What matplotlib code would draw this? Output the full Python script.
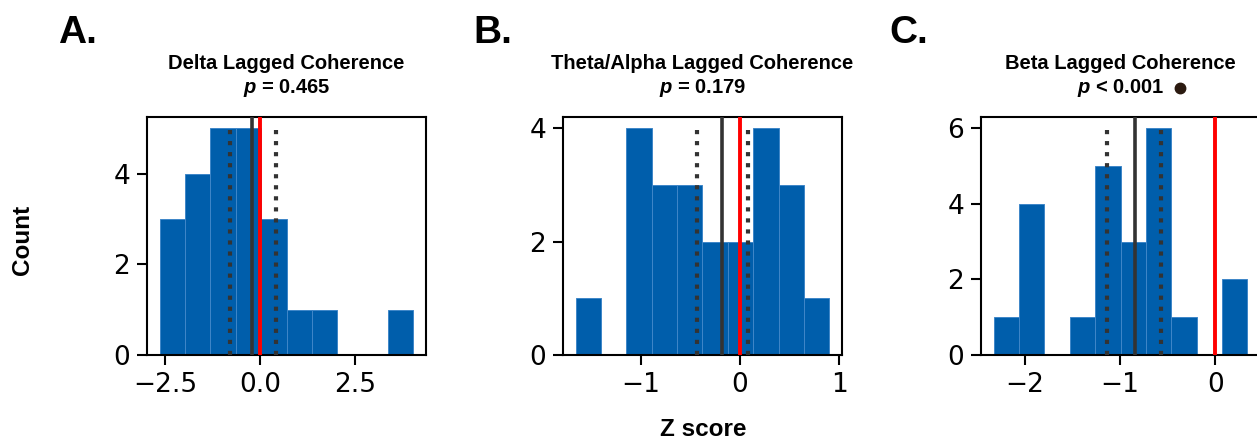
import numpy as np
import matplotlib
matplotlib.use("Agg")
import matplotlib.pyplot as plt

plt.rcParams['font.family'] = ['DejaVu Sans']
plt.rcParams['mathtext.fontset'] = 'custom'
plt.rcParams['mathtext.it'] = 'Liberation Sans:italic:bold'
plt.rcParams['mathtext.rm'] = 'Liberation Sans:bold'

# ---- data ----
panel_labels = ["A.", "B.", "C."]
titles = ["Delta Lagged Coherence", "Theta/Alpha Lagged Coherence", "Beta Lagged Coherence"]
p_texts = ["$p$ = 0.465", "$p$ = 0.179", "$p$ < 0.001"]
significant = [False, False, True]

delta_edges = np.linspace(-2.65, 4.03, 11)
delta_counts = [3, 4, 5, 5, 3, 1, 1, 0, 0, 1]
theta_edges = np.linspace(-1.662, 0.902, 11)
theta_counts = [1, 0, 4, 3, 3, 2, 2, 4, 3, 1]
beta_edges = np.linspace(-2.327, 0.337, 11)
beta_counts = [1, 4, 0, 1, 5, 3, 6, 1, 0, 2]

means = [-0.21, -0.186, -0.847]
ci_low = [-0.81, -0.44, -1.139]
ci_high = [0.41, 0.085, -0.569]
null_value = 0.0

xticks = [[-2.5, 0.0, 2.5], [-1, 0, 1], [-2, -1, 0]]
xticklabels = [["\u22122.5", "0.0", "2.5"], ["\u22121", "0", "1"], ["\u22122", "\u22121", "0"]]
yticks = [[0, 2, 4], [0, 2, 4], [0, 2, 4, 6]]

edges_all = [delta_edges, theta_edges, beta_edges]
counts_all = [delta_counts, theta_counts, beta_counts]

W, H = 1257, 441
fig = plt.figure(figsize=(W / 100, H / 100), dpi=100)

ax_px = [(147, 117, 279, 238), (563, 117, 279, 238), (981, 117, 279, 238)]
label_px = [58, 473, 889]

bar_color = "#005eab"
for i in range(3):
    l, t, w, h = ax_px[i]
    ax = fig.add_axes([l / W, (H - t - h) / H, w / W, h / H])
    edges = edges_all[i]
    counts = np.array(counts_all[i], dtype=float)
    centers = (edges[:-1] + edges[1:]) / 2
    ax.hist(centers, bins=edges, weights=counts, color=bar_color,
            edgecolor="#3f86c8", linewidth=0.7)
    ax.axvline(means[i], color="#333333", lw=2.6, zorder=3)
    ax.axvline(null_value, color="#ff0000", lw=2.8, zorder=4)
    ax.vlines([ci_low[i], ci_high[i]], 0, counts.max(), colors="#333333",
              linestyles=":", lw=3.0, zorder=3)
    ax.set_xticks(xticks[i])
    ax.set_xticklabels(xticklabels[i])
    ax.set_yticks(yticks[i])
    ax.tick_params(labelsize=19, length=7, width=1.5, pad=5)
    for s in ax.spines.values():
        s.set_linewidth(1.5)
    ax.set_title(titles[i] + "\n" + p_texts[i], fontsize=14.5, fontweight="bold",
                 family="Liberation Sans", pad=17, linespacing=1.3)
    fig.text(label_px[i] / W, 1 - 43 / H, panel_labels[i], fontsize=28,
             fontweight="bold", family="Liberation Sans", ha="left", va="baseline")
    if significant[i]:
        ax.plot([0.715], [1.12], marker="o", markersize=7.5, color="#2b1a10",
                transform=ax.transAxes, clip_on=False)

fig.text(22 / W, 1 - 240 / H, "Count", rotation=90, fontsize=17.5, fontweight="bold",
         family="Liberation Sans", ha="center", va="center")
fig.text(703 / W, 1 - 429 / H, "Z score", fontsize=17.5, fontweight="bold",
         family="Liberation Sans", ha="center", va="center")

fig.savefig("out.png", dpi=100)
